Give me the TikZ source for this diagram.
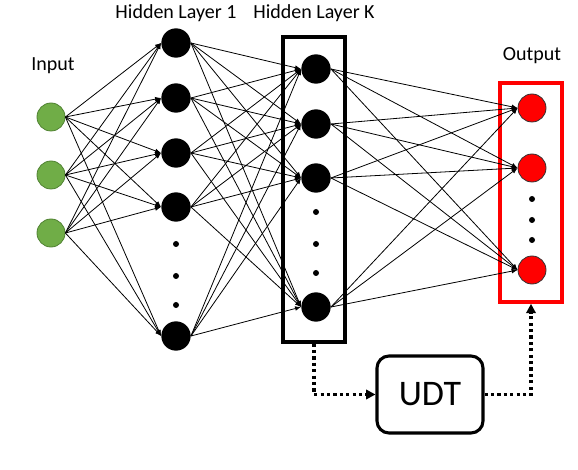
\documentclass[tikz,border=0pt]{standalone}
\usepackage{fontspec}
\setmainfont{Carlito}
\usetikzlibrary{arrows.meta}

\definecolor{ingreen}{RGB}{112,173,71}
\definecolor{ingreendark}{RGB}{80,130,50}
\definecolor{outred}{RGB}{255,0,0}

\tikzset{
  innode/.style={circle,draw=ingreendark,fill=ingreen,line width=0.6pt,inner sep=0pt,minimum size=21pt},
  hidnode/.style={circle,fill=black,inner sep=0pt,minimum size=22pt},
  outnode/.style={circle,draw=black!80,fill=outred,line width=0.6pt,inner sep=0pt,minimum size=21pt},
  dotnode/.style={circle,fill=black,inner sep=0pt,minimum size=4.5pt},
  link/.style={line width=0.6pt,-{Latex[length=4.5pt,width=3.5pt]}},
  flow/.style={line width=2.4pt,dash pattern=on 2.4pt off 2.4pt,-{Triangle[length=7pt,width=7pt]}},
  layertext/.style={font=\fontsize{15}{18}\selectfont}
}

\begin{document}
\begin{tikzpicture}[x=0.75pt,y=0.75pt,yscale=-1,xscale=1]
\useasboundingbox (0,0) rectangle (578,470);

% boxes
\node (boxK) [draw,line width=2.3pt,minimum width=46.5pt,minimum height=228.75pt,inner sep=0pt] at (314,189.5) {};
\node (boxOut) [draw=outred,line width=2.7pt,minimum width=46.5pt,minimum height=164.25pt,inner sep=0pt] at (531,192.5) {};
\node (udt) [draw,line width=2.3pt,rounded corners=9pt,minimum width=79.5pt,minimum height=57.75pt,font=\fontsize{27}{30}\selectfont] at (430,394.5) {UDT};

% input layer
\foreach \i/\y in {1/117,2/175,3/233}
  \node (in\i) [innode] at (51,\y) {};

% hidden layer 1
\foreach \i/\y in {1/43,2/98,3/153,4/207,5/336}
  \node (ha\i) [hidnode] at (176,\y) {};
\foreach \i/\y in {1/244,2/276,3/305}
  \node (hadot\i) [dotnode] at (176,\y) {};

% hidden layer K
\foreach \i/\y in {1/69,2/124,3/178,4/307}
  \node (hk\i) [hidnode] at (316,\y) {};
\foreach \i/\y in {1/212,2/244,3/273}
  \node (hkdot\i) [dotnode] at (316,\y) {};

% output layer
\foreach \i/\y in {1/108,2/168,3/270}
  \node (out\i) [outnode] at (532,\y) {};
\foreach \i/\y in {1/199,2/220,3/240}
  \node (outdot\i) [dotnode] at (532,\y) {};

% connections
\foreach \i in {1,...,3}
  \foreach \j in {1,...,5}
    \draw [link] (in\i.east) -- (ha\j.west);
\foreach \i in {1,...,5}
  \foreach \j in {1,...,4}
    \draw [link] (ha\i.east) -- (hk\j.west);
\foreach \i in {1,...,4}
  \foreach \j in {1,...,3}
    \draw [link] (hk\i.east) -- (out\j.west);

% UDT path
\draw [flow] (boxK.south) |- (udt.west);
\draw [flow] (udt.east) -| (boxOut.south);

% labels
\node (lblIn) [layertext] at (53,66) {Input};
\node (lblH1) [layertext] at (176,13) {Hidden Layer 1};
\node (lblHK) [layertext] at (314,13) {Hidden Layer K};
\node (lblOut) [layertext] at (532,56) {Output};

\end{tikzpicture}
\end{document}
